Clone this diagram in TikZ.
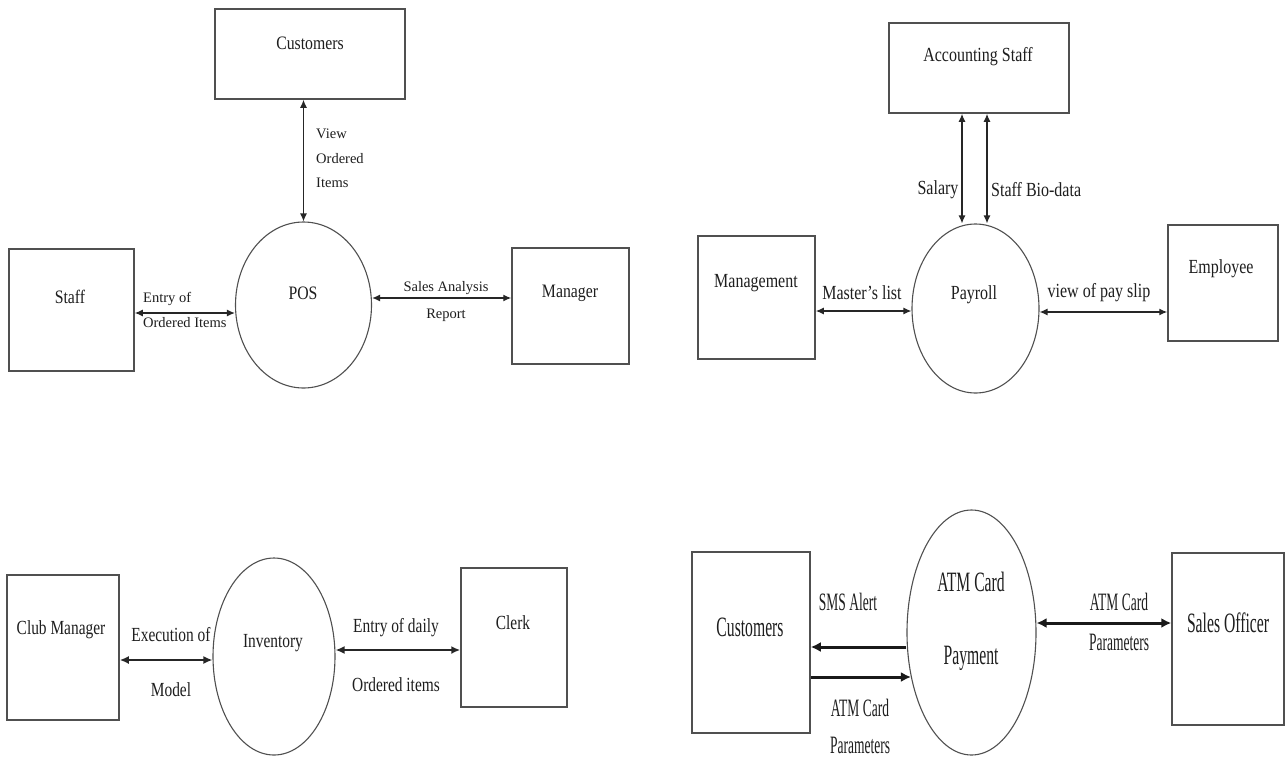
\documentclass[tikz,border=0pt]{standalone}
\usepackage{fontspec}
\setmainfont{Liberation Serif}
\newfontfamily\fA[FakeStretch=0.83]{Liberation Serif}
\newfontfamily\fB[FakeStretch=0.8]{Liberation Serif}
\newfontfamily\fC[FakeStretch=0.77]{Liberation Serif}
\newfontfamily\fD[FakeStretch=0.56]{Liberation Serif}
\newfontfamily\fE[FakeStretch=0.54]{Liberation Serif}
\usetikzlibrary{shapes.geometric,arrows.meta}
\definecolor{ln}{HTML}{505050}
\definecolor{tx}{HTML}{1E1E1E}
\tikzset{
  box/.style={draw=ln, line width=1.5pt, rectangle, inner sep=0pt},
  proc/.style={draw=ln, line width=1.1pt, ellipse, inner sep=0pt},
  t1/.style={text=tx, inner sep=0pt, font=\fA\fontsize{19}{22}\selectfont},
  l1/.style={text=tx, inner sep=0pt, font=\rmfamily\fontsize{14.5}{16}\selectfont},
  t2/.style={text=tx, inner sep=0pt, font=\fB\fontsize{20}{23}\selectfont},
  t3/.style={text=tx, inner sep=0pt, font=\fC\fontsize{20}{23}\selectfont},
  t4/.style={text=tx, inner sep=0pt, font=\fD\fontsize{28}{32}\selectfont},
  l4/.style={text=tx, inner sep=0pt, font=\fE\fontsize{25}{28}\selectfont},
  f1/.style={draw=black!85, line width=1.3pt, >={Latex[length=8pt,width=7pt]}, <->},
  f3/.style={draw=black!85, line width=1.9pt, >={Latex[length=9pt,width=8pt]}, <->},
  f4/.style={draw=black!90, line width=3pt, >={Latex[length=10pt,width=10pt]}},
}
\begin{document}
\begin{tikzpicture}[x=1pt,y=-1pt]
\fill[white] (0,0) rectangle (1285,756);
\useasboundingbox (0,0) rectangle (1285,756);

% ---------------- Quadrant 1: POS ----------------
\node[box, minimum width=190pt, minimum height=90pt] (cust1) at (310,54) {};
\node[t1] (cust1t) at (310,43) {Customers};
\node[proc, minimum width=136pt, minimum height=166pt] (pos) at (303.5,305) {};
\node[t1] (post) at (303,293) {POS};
\node[box, minimum width=125pt, minimum height=122pt] (staff) at (71.5,310) {};
\node[t1] (stafft) at (70,297) {Staff};
\node[box, minimum width=117pt, minimum height=116pt] (mgr1) at (570.5,306) {};
\node[t1] (mgr1t) at (570,293) {Manager};

\draw[f1] (cust1.south -| pos.north) -- (pos.north);
\node[l1, anchor=west, align=left] (lview) at (316,158) {View\\[9pt]Ordered\\[8pt]Items};
\draw[f1] (staff.east |- 0,313) -- (pos.west |- 0,313);
\node[l1, anchor=west] (lentry1) at (143,299) {Entry of};
\node[l1, anchor=west] (lentry2) at (143,323) {Ordered Items};
\draw[f1] (pos.east |- 0,298) -- (mgr1.west |- 0,298);
\node[l1] (lsales1) at (446,288) {Sales Analysis};
\node[l1] (lsales2) at (446,315) {Report};

% ---------------- Quadrant 2: Payroll ----------------
\node[box, minimum width=180pt, minimum height=90pt] (acc) at (979,68) {};
\node[t2] (acct) at (978,57) {Accounting Staff};
\node[proc, minimum width=127pt, minimum height=169pt] (pay) at (975.5,308.5) {};
\node[t2] (payt) at (974,295) {Payroll};
\node[box, minimum width=117pt, minimum height=123pt] (mgmt) at (756.5,297.5) {};
\node[t2] (mgmtt) at (756,283) {Management};
\node[box, minimum width=110pt, minimum height=116pt] (emp) at (1223,283) {};
\node[t2] (empt) at (1221,269) {Employee};

\draw[f1] (acc.south -| 962,0) -- (pay.north -| 962,0);
\draw[f1] (acc.south -| 987,0) -- (pay.north -| 987,0);
\node[t2] (lsalary) at (938,190) {Salary};
\node[t2, anchor=west] (lbio) at (991,190) {Staff Bio-data};
\draw[f1] (mgmt.east |- 0,311) -- (pay.west |- 0,311);
\node[t2] (lmaster) at (862,293) {Master’s list};
\draw[f1] (pay.east |- 0,312) -- (emp.west |- 0,312);
\node[t2] (lslip) at (1099,293) {view of pay slip};

% ---------------- Quadrant 3: Inventory ----------------
\node[box, minimum width=112pt, minimum height=145pt] (club) at (63,647.5) {};
\node[t3] (clubt) at (61,630) {Club Manager};
\node[proc, minimum width=122pt, minimum height=197pt] (inv) at (274,656.5) {};
\node[t3] (invt) at (273,643) {Inventory};
\node[box, minimum width=106pt, minimum height=139pt] (clerk) at (514,637.5) {};
\node[t3] (clerkt) at (513,623) {Clerk};

\draw[f3] (club.east |- 0,660) -- (inv.west |- 0,660);
\node[t3] (lexec1) at (171,635) {Execution of};
\node[t3] (lexec2) at (171,690) {Model};
\draw[f3] (inv.east |- 0,650) -- (clerk.west |- 0,650);
\node[t3] (ldaily1) at (396,628) {Entry of daily};
\node[t3] (ldaily2) at (396,685) {Ordered items};

% ---------------- Quadrant 4: ATM Card Payment ----------------
\node[box, minimum width=118pt, minimum height=181pt] (cust4) at (751,642.5) {};
\node[t4] (cust4t) at (750,627) {Customers};
\node[proc, minimum width=129pt, minimum height=245pt] (atm) at (971.5,632.5) {};
\node[t4] (atmt1) at (971,582) {ATM Card};
\node[t4] (atmt2) at (971,658) {Payment};
\node[box, minimum width=112pt, minimum height=172pt] (so) at (1228,639) {};
\node[t4] (sot) at (1228,623) {Sales Officer};

\coordinate (atmw) at ([xshift=4.5pt]atm.west);
\draw[f4, ->] (atm.west |- 0,647) -- (cust4.east |- 0,647);
\node[l4] (lsms) at (848,602) {SMS Alert};
\draw[f4, ->] (cust4.east |- 0,677) -- (atmw |- 0,677);
\node[l4] (lpar1) at (860,708) {ATM Card};
\node[l4] (lpar2) at (860,745) {Parameters};
\draw[f4, <->] (atm.east |- 0,623) -- (so.west |- 0,623);
\node[l4] (lpar3) at (1119,602) {ATM Card};
\node[l4] (lpar4) at (1119,642) {Parameters};
\end{tikzpicture}
\end{document}
